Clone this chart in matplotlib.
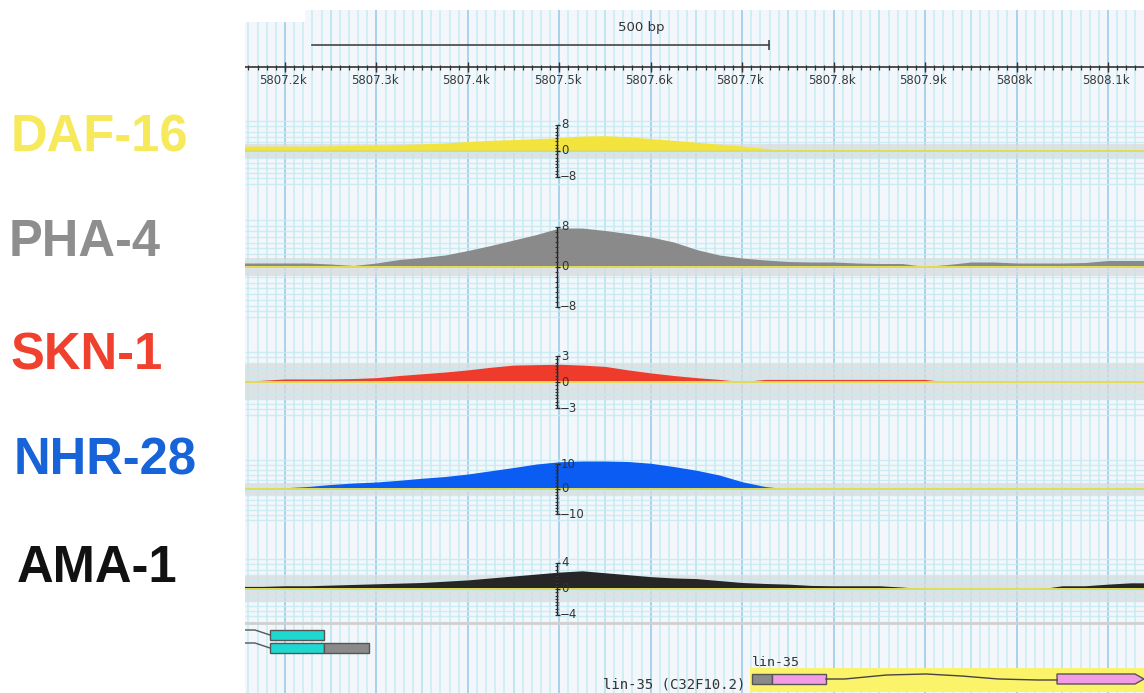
import numpy as np
import matplotlib.pyplot as plt
from matplotlib.patches import Rectangle, Polygon

W, H = 1144, 693
X0, X1 = 5807156.3, 5808139.4   # visible window (bp)

# ---- data -------------------------------------------------------------
positions = np.arange(5807150, 5808151, 25)

daf16 = [1.5, 1.5, 1.5, 1.5, 1.6, 1.7, 1.8, 2.0, 2.2, 2.5, 2.9, 3.3, 3.5, 3.8,
         4.1, 4.6, 4.7, 4.4, 3.8, 3.3, 2.7, 2.1, 1.5, 0.8, 0,
         0, 0, 0, 0, 0, 0, 0, 0, 0, 0, 0, 0, 0, 0, 0, 0]
pha4 = [0.8, 0.8, 0.8, 0.8, 0.6, 0.3, 0.8, 1.5, 1.9, 2.4, 3.3, 4.3, 5.4, 6.5,
        7.8, 7.8, 7.3, 6.7, 6.0, 5.0, 3.5, 2.4, 1.8, 1.4, 1.1, 1.0, 1.0, 0.8,
        0.7, 0.7, 0.1, 0.5, 1.0, 1.0, 0.8, 0.8, 0.8, 0.9, 1.3, 1.3, 1.3]
skn1 = [0, 0.2, 0.35, 0.35, 0.35, 0.4, 0.5, 0.75, 0.95, 1.15, 1.4, 1.7, 1.95,
        2.0, 2.05, 1.95, 1.8, 1.4, 1.05, 0.75, 0.5, 0.3, 0.05, 0.3,
        0.3, 0.3, 0.3, 0.3, 0.3, 0.3, 0.3,
        0, 0, 0, 0, 0, 0, 0, 0, 0, 0]
nhr28 = [0, 0, 0.5, 1.0, 1.8, 2.4, 2.8, 3.5, 4.3, 5.0, 6.0, 7.3, 8.6, 10.0,
         10.9, 11.2, 11.2, 11.0, 10.3, 9.0, 7.5, 5.6, 2.9, 1.0, 0,
         0, 0, 0, 0, 0, 0, 0, 0, 0, 0, 0, 0, 0, 0, 0, 0]
ama1 = [0.4, 0.4, 0.5, 0.5, 0.6, 0.7, 0.8, 0.9, 1.0, 1.2, 1.4, 1.7, 2.0, 2.3,
        2.6, 2.8, 2.5, 2.2, 1.9, 1.7, 1.6, 1.3, 1.0, 0.85, 0.75, 0.55, 0.5,
        0.5, 0.5, 0.3, 0, 0, 0, 0, 0, 0, 0.5, 0.5, 0.75, 0.95, 0.95]

track_names = ["DAF-16", "PHA-4", "SKN-1", "NHR-28", "AMA-1"]
track_values = [daf16, pha4, skn1, nhr28, ama1]
axis_max = [8, 8, 3, 10, 4]
fill_colors = ["#f2e43c", "#8a8a8a", "#ee3b2b", "#0b5cf2", "#262626"]
label_colors = ["#f6ea5c", "#8e8e8e", "#f0402e", "#1763d8", "#111111"]

ruler_ticks = np.arange(5807200, 5808101, 100)
ruler_labels = ["5807.2k", "5807.3k", "5807.4k", "5807.5k", "5807.6k",
                "5807.7k", "5807.8k", "5807.9k", "5808k", "5808.1k"]
scale_start, scale_len = 5807229.5, 500

# left gene: two transcripts, exons (start, end, colour)
left_tx = [[(5807183.6, 5807242.7, "#1fd8d0")],
           [(5807183.6, 5807242.7, "#1fd8d0"), (5807242.7, 5807291.9, "#8a8a8a")]]
# lin-35
lin35_highlight = (5807708.5, X1)
lin35_exons = [(5807710.7, 5807732.6, "#8a8a8a"), (5807732.6, 5807791.6, "#f49be6")]
lin35_last_exon = (5808044.3, 5808129.6, X1)
lin35_intron_x = [5807791.6, 5807812, 5807858, 5807901, 5807940, 5807980, 5808023, 5808044.3]
lin35_intron_dy = [0, 0, -4, -5, -3, 0, 1, 1]

axis_pos = 5807497

# ---- layout helpers ---------------------------------------------------
fig = plt.figure(figsize=(W / 100, H / 100), dpi=100)
fig.patch.set_facecolor("white")


def px_axes(x0, y0, x1, y1, z=1):
    ax = fig.add_axes([x0 / W, 1 - y1 / H, (x1 - x0) / W, (y1 - y0) / H], zorder=z)
    ax.set_xlim(X0, X1)
    ax.axis("off")
    return ax


# background grid
bg = px_axes(245, 10, 1144, 693, z=0)
bg.axis("on")
for s in bg.spines.values():
    s.set_visible(False)
bg.set_xticks([]); bg.set_yticks([])
bg.set_facecolor("#f3f7fb")
bg.set_ylim(0, 1)
minor = np.arange(5807160, X1, 10)
bg.vlines(minor, 0, 1, color="#cdeef3", lw=1.3)
bg.vlines(np.arange(5807150, X1, 50), 0, 1, color="#bfe6f0", lw=1.3)
bg.vlines(ruler_ticks, 0, 1, color="#a9d3ec", lw=1.4)
bg.add_patch(Rectangle((0, 1 - 12 / 683), 60 / 899, 12 / 683, transform=bg.transAxes,
                       color="white", lw=0, zorder=3))

# ruler
ru = px_axes(245, 10, 1144, 100, z=2)
ru.set_ylim(90, 0)
ru.axhline(57, color="#333333", lw=1.2)
ru.vlines(np.arange(5807160, X1, 10), 54.5, 59.5, color="#333333", lw=0.9)
ru.vlines(ruler_ticks, 52, 62, color="#333333", lw=1.0)
for t, lab in zip(ruler_ticks, ruler_labels):
    ru.text(t - 2, 71, lab, ha="center", va="center", fontsize=8.5, color="#3a3a3a")
ru.plot([scale_start, scale_start + scale_len], [35, 35], color="#444444", lw=1.2)
ru.vlines(scale_start + scale_len, 30, 40, color="#444444", lw=1.2)
ru.text(scale_start + 360, 17, "500 bp", ha="center", va="center",
        fontsize=9.5, color="#333333")

# tracks: (top px, zero px, bottom px, axis half-height px, grey band half px)
track_px = [(100, 151, 200, 26, 7), (200, 267, 322, 40, 9), (322, 382, 430, 26, 18),
            (430, 489, 525, 25, 6), (525, 589, 622, 26, 13)]
label_y = [138, 242, 356, 461, 569]
label_x = [11, 9, 11, 14, 17]

for i, name in enumerate(track_names):
    top, zero, bot, apx, band = track_px[i]
    ymax = axis_max[i]
    ppu = apx / ymax
    ax = px_axes(245, top, 1144, bot, z=1)
    ax.set_ylim(-(bot - zero) / ppu, (zero - top) / ppu)
    step = ymax / 5 if apx < 35 else ymax / 7
    levels = np.arange(-1.25 * ymax, 1.25 * ymax + 1e-9, step)
    ax.hlines(levels, X0, X1, color="#c6ebf1", lw=1.0, alpha=0.9)
    ax.axhspan(-band / ppu, band / ppu, color="#d9d9d9", alpha=0.7, lw=0)
    ax.fill_between(positions, 0, track_values[i], color=fill_colors[i], lw=0, zorder=3)
    ax.axhline(0, color="#e4dc55", lw=1.4, zorder=4)
    # small scale axis
    ax.vlines(axis_pos, -ymax, ymax, color="#222222", lw=1.0, zorder=5)
    ax.hlines([-ymax, ymax], axis_pos, axis_pos + 4, color="#222222", lw=1.0, zorder=5)
    ax.hlines(np.linspace(-ymax, ymax, 17), axis_pos - 1.5, axis_pos + 1.5,
              color="#333333", lw=0.8, zorder=5)
    ax.hlines(0, axis_pos, axis_pos + 4, color="#222222", lw=1.0, zorder=5)
    for v, txt in [(ymax, str(ymax)), (0, "0"), (-ymax, "\u2212%d" % ymax)]:
        ax.text(axis_pos + (5 if v >= 0 else 3), v, txt, ha="left", va="center",
                fontsize=8.5, color="#333333", zorder=6)
    fig.text(label_x[i] / W, 1 - label_y[i] / H, name, ha="left", va="center",
             fontsize=36.5, fontweight="bold", color=label_colors[i],
             family=["Liberation Sans", "DejaVu Sans"])

# gene track
gt = px_axes(245, 622, 1144, 693, z=2)
gt.set_ylim(71, 0)
gt.axhline(0.5, color="#d0d0d0", lw=2)
for row, exons in enumerate(left_tx):
    y = 13 + row * 13
    gt.plot([X0, 5807167.2, exons[0][0]], [y - 5, y - 5, y], color="#555555", lw=1)
    for s, e, c in exons:
        gt.add_patch(Rectangle((s, y - 5), e - s, 10, facecolor=c, edgecolor="#555555", lw=1))

gt.add_patch(Rectangle((lin35_highlight[0], 46), lin35_highlight[1] - lin35_highlight[0], 24,
                       facecolor="#fbf46a", lw=0))
gt.plot(lin35_intron_x, [57 + d for d in lin35_intron_dy], color="#444444", lw=1)
for s, e, c in lin35_exons:
    gt.add_patch(Rectangle((s, 52), e - s, 10, facecolor=c, edgecolor="#555555", lw=1))
s, e, tip = lin35_last_exon
gt.add_patch(Polygon([(s, 52), (e, 52), (tip, 57), (e, 62), (s, 62)], closed=True,
                     facecolor="#f49be6", edgecolor="#555555", lw=1))
gt.text(lin35_exons[0][0], 41, "lin-35", ha="left", va="center", fontsize=9.5,
        color="#333333", family="DejaVu Sans Mono")
gt.text(5807704, 62, "lin-35 (C32F10.2)", ha="right", va="center", fontsize=10,
        color="#333333", family="DejaVu Sans Mono")

fig.savefig("out.png", dpi=100, facecolor="white")
